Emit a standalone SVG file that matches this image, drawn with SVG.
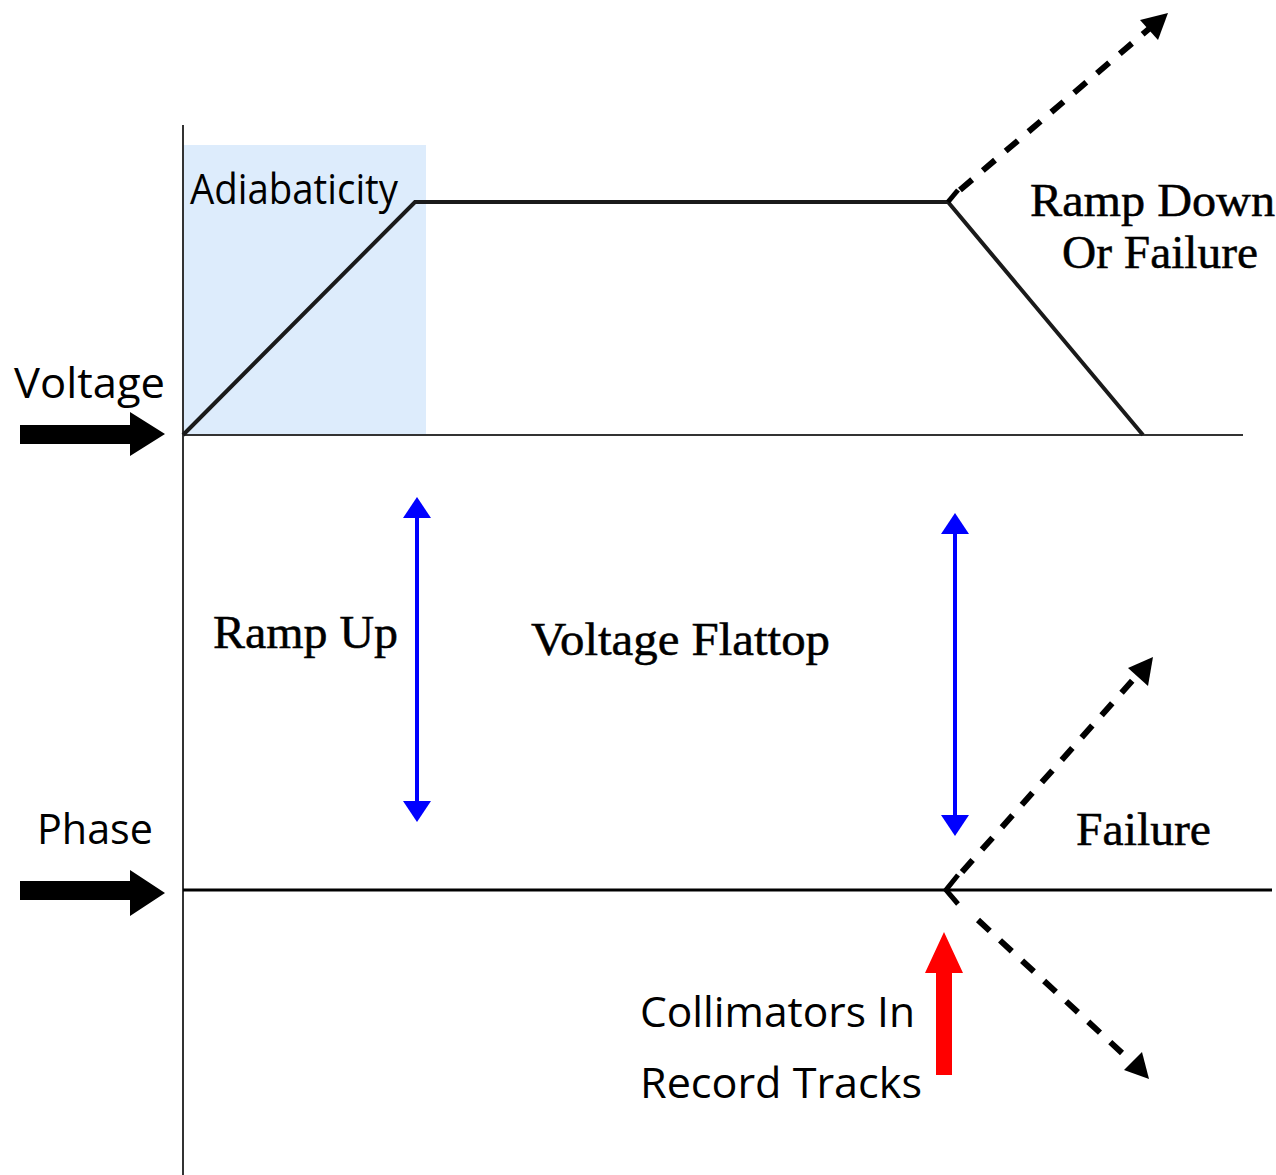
<svg xmlns="http://www.w3.org/2000/svg" width="1276" height="1175" viewBox="0 0 1276 1175">
<style>
.sans{font-family:"Open Sans","DejaVu Sans",sans-serif;font-size:42px;fill:#000}
.serif{font-family:"Liberation Serif","Times New Roman",serif;font-size:46px;fill:#000;stroke:#000;stroke-width:0.5}
.axis{stroke:#333;stroke-width:2;fill:none}
.trace{stroke:#1a1a1a;stroke-width:4;fill:none;stroke-linejoin:miter}
.dash{stroke:#000;stroke-width:6;fill:none;stroke-dasharray:16 14}
.blue{stroke:#0000ff;stroke-width:4;fill:none}
.bhead{fill:#0000ff}
</style>
<rect id="adiabatic-zone" x="184" y="145" width="242" height="290" fill="#ddecfc"/>
<g id="axes">
<line class="axis" x1="183" y1="125" x2="183" y2="1175"/>
<line class="axis" x1="183" y1="435" x2="1243" y2="435"/>
</g>
<g id="connectors">
<polyline class="trace" points="183,435 415,202 948,202 1143,435"/>
<line x1="183" y1="890" x2="1272" y2="890" stroke="#000" stroke-width="3"/>
<line class="dash" x1="960" y1="190" x2="1150" y2="28"/>
<path d="M1168,13 L1140,20 L1158,40 z" fill="#000"/>
<line class="dash" x1="962" y1="872" x2="1140" y2="672"/>
<path d="M1153,657 L1128,668 L1148,686 z" fill="#000"/>
<line class="dash" x1="978" y1="920" x2="1134" y2="1064"/>
<path d="M1149,1079 L1124,1070 L1142,1052 z" fill="#000"/>
<polyline points="958,875 946,890 958,904" fill="none" stroke="#000" stroke-width="5"/>
<polyline points="958,190 948,202" fill="none" stroke="#000" stroke-width="5"/>
<line class="blue" x1="417" y1="515" x2="417" y2="805"/>
<polygon class="bhead" points="417,497 431,518 403,518"/>
<polygon class="bhead" points="417,822 431,801 403,801"/>
<line class="blue" x1="955" y1="530" x2="955" y2="820"/>
<polygon class="bhead" points="955,513 969,534 941,534"/>
<polygon class="bhead" points="955,836 969,815 941,815"/>
</g>
<g id="voltage-arrow">
<polygon points="20,425 130,425 130,412 165,434 130,456 130,444 20,444" fill="#000"/>
</g>
<g id="phase-arrow">
<polygon points="20,881 130,881 130,870 165,893 130,916 130,900 20,900" fill="#000"/>
</g>
<g id="collimator-arrow">
<polygon points="936,1075 936,973 925,973 944,932 963,973 952,973 952,1075" fill="#ff0000"/>
</g>
<g id="labels">
<text class="sans" x="190" y="204" textLength="208" lengthAdjust="spacingAndGlyphs">Adiabaticity</text>
<text class="sans" x="14" y="398" textLength="151" lengthAdjust="spacingAndGlyphs">Voltage</text>
<text class="sans" x="37" y="844" textLength="116" lengthAdjust="spacingAndGlyphs">Phase</text>
<text class="sans" x="640" y="1027" textLength="275" lengthAdjust="spacingAndGlyphs">Collimators In</text>
<text class="sans" x="640" y="1098" textLength="282" lengthAdjust="spacingAndGlyphs">Record  Tracks</text>
<text class="serif" x="1030" y="216" textLength="245" lengthAdjust="spacingAndGlyphs">Ramp Down</text>
<text class="serif" x="1062" y="268" textLength="196" lengthAdjust="spacingAndGlyphs">Or Failure</text>
<text class="serif" x="213" y="648" textLength="185" lengthAdjust="spacingAndGlyphs">Ramp Up</text>
<text class="serif" x="531" y="655" textLength="299" lengthAdjust="spacingAndGlyphs">Voltage Flattop</text>
<text class="serif" x="1076" y="845" textLength="135" lengthAdjust="spacingAndGlyphs">Failure</text>
</g>
</svg>
